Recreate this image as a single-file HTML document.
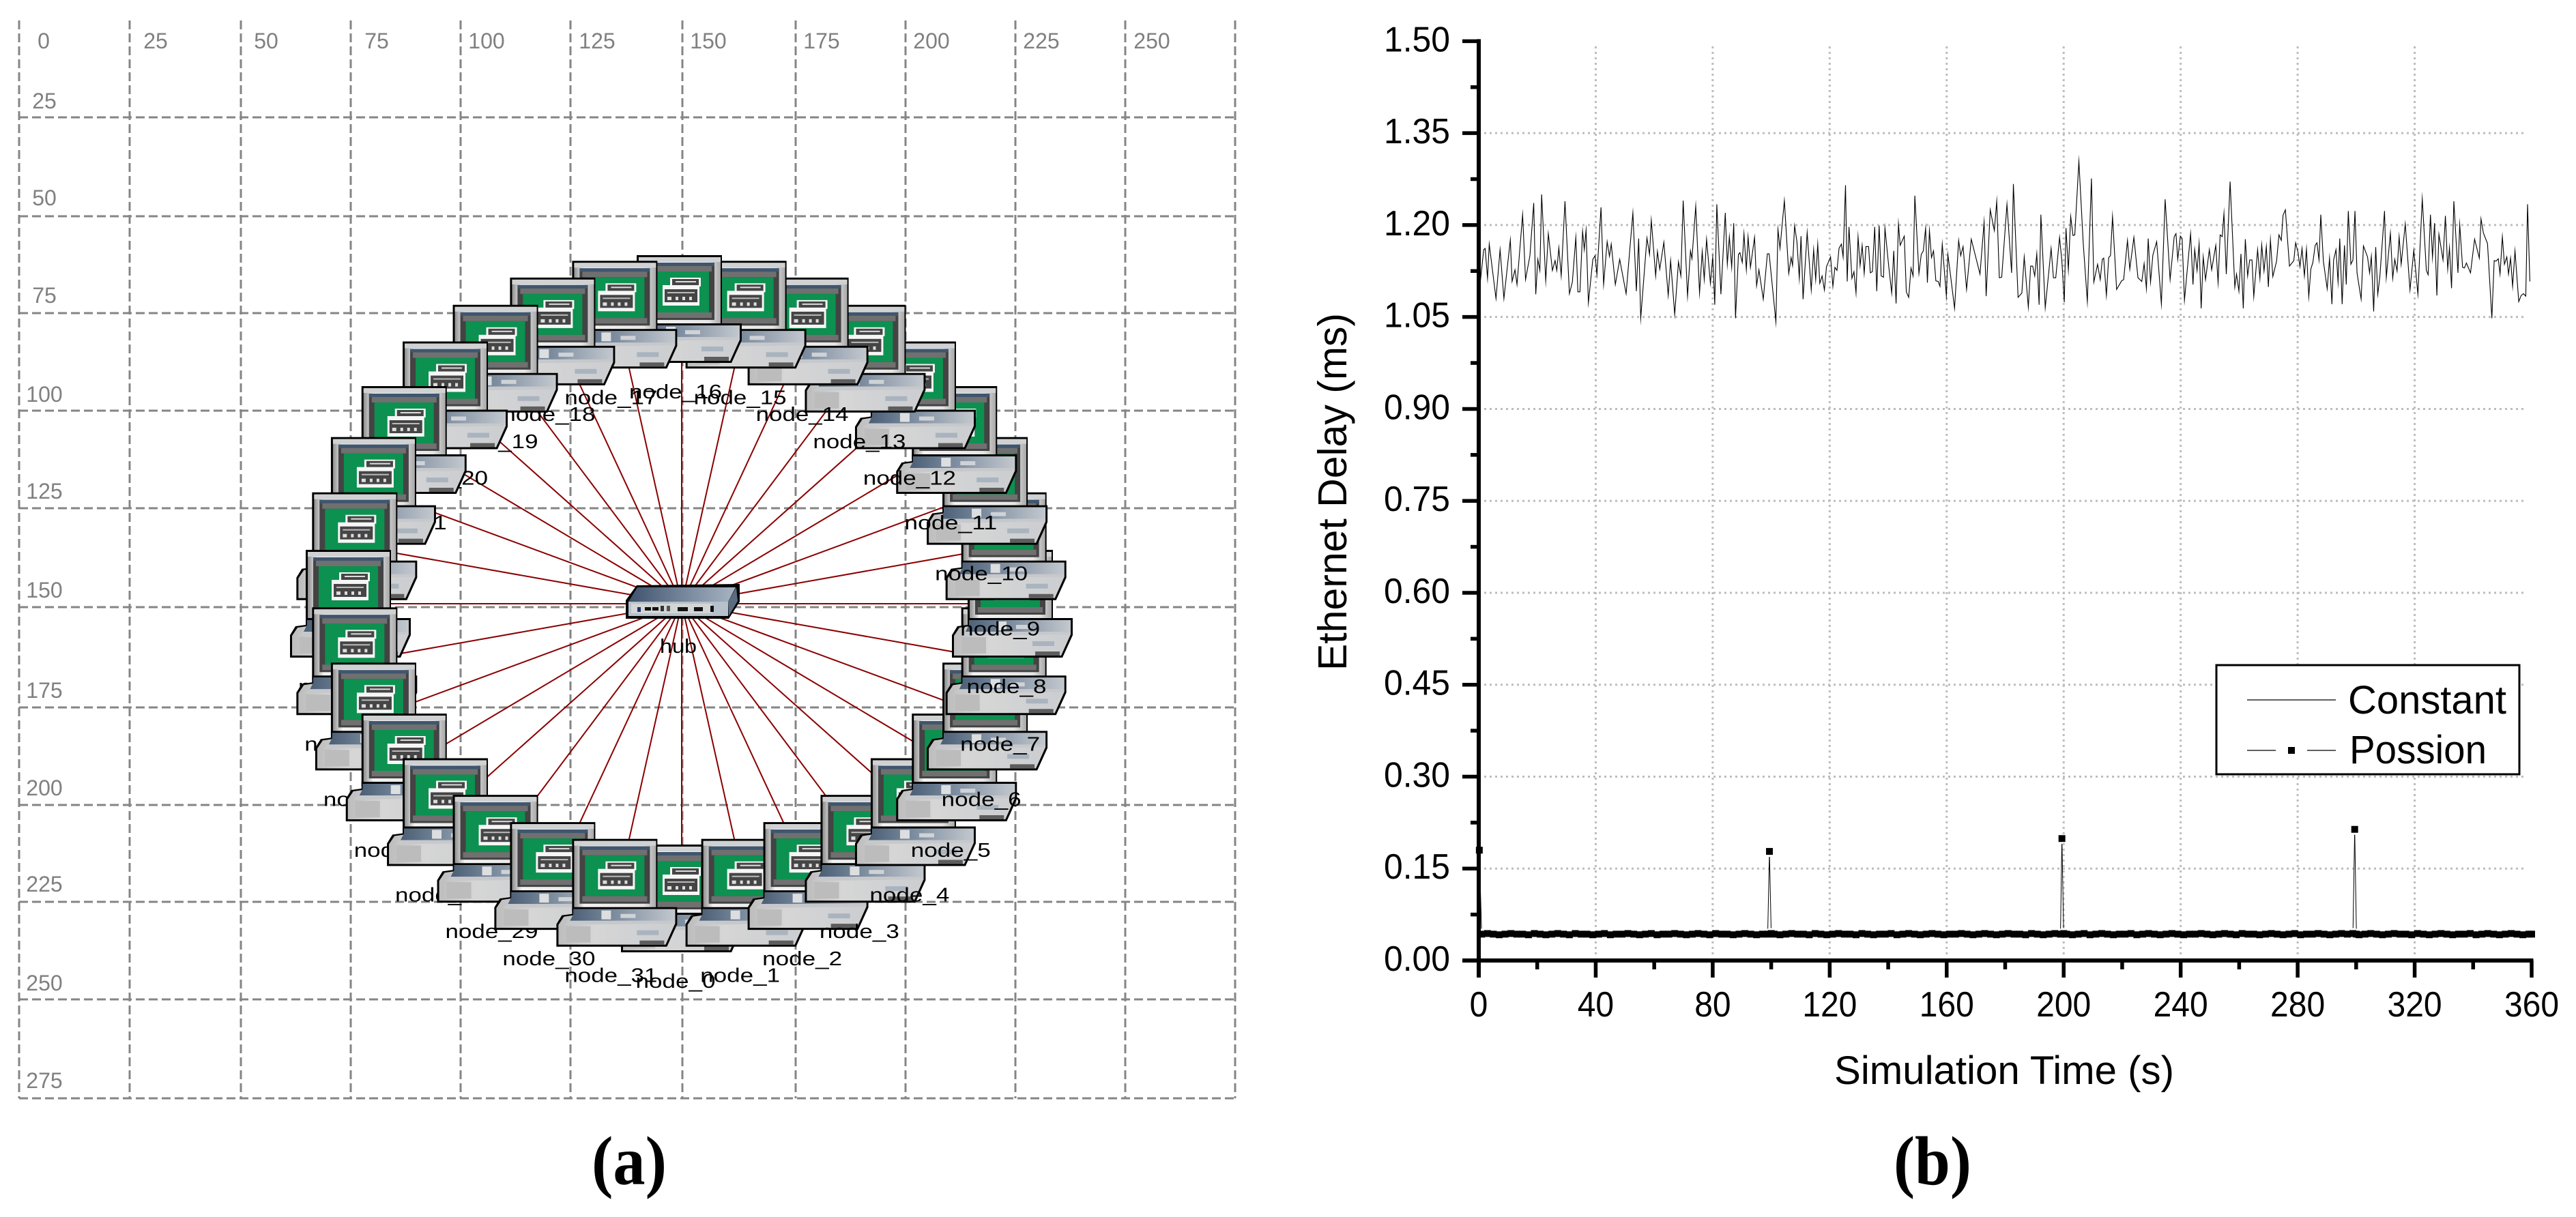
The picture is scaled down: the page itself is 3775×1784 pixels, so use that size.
<!DOCTYPE html>
<html lang="en">
<head>
<meta charset="utf-8">
<title>Hub network topology and Ethernet delay</title>
<style>
html,body{margin:0;padding:0;background:#fff;}
svg{display:block;}
.grid-a{stroke:#858585;stroke-width:3;stroke-dasharray:13 6;fill:none;}
.grid-label{font-family:"Liberation Sans",sans-serif;font-size:32px;fill:#808080;text-anchor:middle;}
.node-label{font-family:"Liberation Sans",sans-serif;font-size:29px;fill:#000;text-anchor:middle;}
.grid-b{stroke:#bdbdbd;stroke-width:3;stroke-dasharray:3 5;fill:none;}
.sans{font-family:"Liberation Sans",sans-serif;fill:#000;}
.tick-label{font-size:52px;}
.caption{font-family:"Liberation Serif",serif;font-weight:bold;font-size:102px;fill:#000;text-anchor:middle;}
</style>
</head>
<body>
<svg id="figure" xmlns="http://www.w3.org/2000/svg" width="3775" height="1784" viewBox="0 0 3775 1784">
<defs>
  <linearGradient id="frameGrad" x1="0" y1="0" x2="1" y2="0">
    <stop offset="0" stop-color="#8f8f8f"/><stop offset=".12" stop-color="#f2f2f2"/><stop offset=".85" stop-color="#e6e6e6"/><stop offset="1" stop-color="#a8a8a8"/>
  </linearGradient>
  <linearGradient id="baseGrad" x1="0" y1="0" x2="1" y2="0">
    <stop offset="0" stop-color="#bdbdbd"/><stop offset=".3" stop-color="#d6d6d6"/><stop offset="1" stop-color="#cbcdd0"/>
  </linearGradient>
  <linearGradient id="baseTopGrad" x1="0" y1="0" x2="1" y2="0">
    <stop offset="0" stop-color="#4a5e75"/><stop offset=".45" stop-color="#7f8fa1"/><stop offset="1" stop-color="#c3c8ce"/>
  </linearGradient>
  <linearGradient id="hubTop" x1="0" y1="0" x2="1" y2="0">
    <stop offset="0" stop-color="#3f526c"/><stop offset=".6" stop-color="#7f8ea3"/><stop offset="1" stop-color="#a8b4c2"/>
  </linearGradient>
  <g id="pc">
    <rect x="23" y="0" width="125" height="106" fill="#000"/>
    <rect x="26" y="3" width="120" height="100" fill="url(#frameGrad)"/>
    <rect x="26" y="3" width="120" height="7" fill="#cfd1d3"/>
    <rect x="34" y="11" width="103" height="84" fill="#434343"/>
    <rect x="34" y="11" width="103" height="5" fill="#3f566f"/>
    <rect x="38" y="16" width="95" height="8" fill="#707070"/>
    <rect x="42" y="24" width="87" height="60" fill="#0c9150"/>
    <rect x="38" y="84" width="95" height="8" fill="#707070"/>
    <rect x="72" y="33" width="45" height="13" fill="#f6f6f6"/>
    <rect x="61" y="44" width="54" height="30" fill="#f6f6f6"/>
    <rect x="75" y="35" width="39" height="9" fill="#454545"/>
    <rect x="64" y="50" width="48" height="19" fill="#454545"/>
    <rect x="80" y="38" width="30" height="2" fill="#ddd"/>
    <rect x="68" y="54" width="40" height="2" fill="#bbb"/>
    <rect x="68" y="61" width="6" height="5" fill="#ddd"/>
    <rect x="80" y="61" width="4" height="5" fill="#ddd"/>
    <rect x="90" y="61" width="4" height="5" fill="#ddd"/>
    <rect x="100" y="61" width="4" height="5" fill="#ddd"/>
    <polygon points="23,100 177,100 177,125 162,158 0,158 0,125 8,112 23,110" fill="#000"/>
    <polygon points="25,103 174,103 174,124 160,155 3,155 3,126 11,114 25,112" fill="url(#baseGrad)"/>
    <polygon points="25,103 174,103 174,120 20,120 25,110" fill="url(#baseTopGrad)"/>
    <polygon points="20,120 174,120 174,124 12,126" fill="#c6c8cb"/>
    <rect x="66" y="105" width="14" height="13" fill="#dcdee0"/>
    <rect x="94" y="110" width="22" height="6" fill="#cfd2d6"/>
    <rect x="14" y="128" width="36" height="24" fill="#bcbcbc"/>
    <rect x="118" y="134" width="32" height="7" fill="#a9b4bf"/>
    <rect x="122" y="149" width="36" height="6" fill="#5d5d5d"/>
  </g>
</defs>

<g id="panel-a">
  <g id="grid-a">
    <line class="grid-a" x1="28" y1="30" x2="28" y2="1610"/>
    <line class="grid-a" x1="190" y1="30" x2="190" y2="1610"/>
    <line class="grid-a" x1="353" y1="30" x2="353" y2="1610"/>
    <line class="grid-a" x1="514" y1="30" x2="514" y2="1610"/>
    <line class="grid-a" x1="675" y1="30" x2="675" y2="1610"/>
    <line class="grid-a" x1="836" y1="30" x2="836" y2="1610"/>
    <line class="grid-a" x1="1000" y1="30" x2="1000" y2="1610"/>
    <line class="grid-a" x1="1166" y1="30" x2="1166" y2="1610"/>
    <line class="grid-a" x1="1327" y1="30" x2="1327" y2="1610"/>
    <line class="grid-a" x1="1488" y1="30" x2="1488" y2="1610"/>
    <line class="grid-a" x1="1649" y1="30" x2="1649" y2="1610"/>
    <line class="grid-a" x1="1810" y1="30" x2="1810" y2="1610"/>
    <line class="grid-a" x1="28" y1="172" x2="1810" y2="172"/>
    <line class="grid-a" x1="28" y1="317" x2="1810" y2="317"/>
    <line class="grid-a" x1="28" y1="459" x2="1810" y2="459"/>
    <line class="grid-a" x1="28" y1="602" x2="1810" y2="602"/>
    <line class="grid-a" x1="28" y1="745" x2="1810" y2="745"/>
    <line class="grid-a" x1="28" y1="890" x2="1810" y2="890"/>
    <line class="grid-a" x1="28" y1="1037" x2="1810" y2="1037"/>
    <line class="grid-a" x1="28" y1="1180" x2="1810" y2="1180"/>
    <line class="grid-a" x1="28" y1="1322" x2="1810" y2="1322"/>
    <line class="grid-a" x1="28" y1="1465" x2="1810" y2="1465"/>
    <line class="grid-a" x1="28" y1="1610" x2="1810" y2="1610"/>
  </g>
  <g id="grid-labels-a">
    <text class="grid-label" x="64" y="71">0</text>
    <text class="grid-label" x="228" y="71">25</text>
    <text class="grid-label" x="390" y="71">50</text>
    <text class="grid-label" x="552" y="71">75</text>
    <text class="grid-label" x="713" y="71">100</text>
    <text class="grid-label" x="875" y="71">125</text>
    <text class="grid-label" x="1038" y="71">150</text>
    <text class="grid-label" x="1204" y="71">175</text>
    <text class="grid-label" x="1365" y="71">200</text>
    <text class="grid-label" x="1526" y="71">225</text>
    <text class="grid-label" x="1688" y="71">250</text>
    <text class="grid-label" x="65" y="159">25</text>
    <text class="grid-label" x="65" y="301">50</text>
    <text class="grid-label" x="65" y="444">75</text>
    <text class="grid-label" x="65" y="589">100</text>
    <text class="grid-label" x="65" y="731">125</text>
    <text class="grid-label" x="65" y="876">150</text>
    <text class="grid-label" x="65" y="1023">175</text>
    <text class="grid-label" x="65" y="1166">200</text>
    <text class="grid-label" x="65" y="1307">225</text>
    <text class="grid-label" x="65" y="1452">250</text>
    <text class="grid-label" x="65" y="1595">275</text>
  </g>
  <g id="links"></g>
  <g id="nodes"></g>
  <g id="hub">
    <polygon points="933,858 1084,856 1084,882 1068,907 917,907 917,880" fill="#000"/>
    <polygon points="934,861 1078,861 1067,882 921,882" fill="url(#hubTop)"/>
    <polygon points="1079,861 1081,881 1068,903 1067,882" fill="#5b6c80"/>
    <rect x="921" y="882" width="146" height="21" fill="#b6c1cc"/>
    <rect x="925" y="885" width="118" height="14" fill="#d4d6d6"/>
    <rect x="934" y="890" width="5" height="7" fill="#1d2f6e"/>
    <rect x="945" y="890" width="9" height="5" fill="#111"/>
    <rect x="956" y="890" width="9" height="5" fill="#111"/>
    <rect x="968" y="888" width="5" height="8" fill="#333"/>
    <rect x="977" y="888" width="5" height="8" fill="#555"/>
    <rect x="993" y="890" width="15" height="6" fill="#111"/>
    <rect x="1017" y="890" width="13" height="6" fill="#111"/>
    <rect x="1041" y="888" width="5" height="9" fill="#111"/>
    <text class="node-label" x="994" y="957" textLength="54" lengthAdjust="spacingAndGlyphs">hub</text>
  </g>
  <text class="caption" x="922" y="1736" textLength="110" lengthAdjust="spacingAndGlyphs">(a)</text>
</g>

<g id="panel-b">
  <g id="chart-grid"></g>
  <g id="chart-series"></g>
  <g id="chart-axes"></g>
  <text class="sans" x="2688" y="1589" font-size="58" textLength="498" lengthAdjust="spacingAndGlyphs">Simulation Time (s)</text>
  <text class="sans" transform="translate(1973,983) rotate(-90)" x="0" y="0" font-size="59" textLength="524" lengthAdjust="spacingAndGlyphs">Ethernet Delay (ms)</text>
  <g id="legend">
    <rect x="3248" y="975" width="444" height="160" fill="#fff" stroke="#000" stroke-width="3"/>
    <line x1="3293" y1="1026" x2="3423" y2="1026" stroke="#000" stroke-width="1.2"/>
    <text class="sans" x="3441" y="1046" font-size="58" textLength="232" lengthAdjust="spacingAndGlyphs">Constant</text>
    <line x1="3293" y1="1100" x2="3335" y2="1100" stroke="#000" stroke-width="1.2"/>
    <rect x="3353" y="1095" width="10" height="10" fill="#000"/>
    <line x1="3381" y1="1100" x2="3423" y2="1100" stroke="#000" stroke-width="1.2"/>
    <text class="sans" x="3443" y="1119" font-size="58" textLength="201" lengthAdjust="spacingAndGlyphs">Possion</text>
  </g>
  <text class="caption" x="2832" y="1736" textLength="114" lengthAdjust="spacingAndGlyphs">(b)</text>
</g>
</svg>

<script>
const NS = 'http://www.w3.org/2000/svg';

/* ---------- chart data ---------- */
const yTickValues = [0, 0.15, 0.30, 0.45, 0.60, 0.75, 0.90, 1.05, 1.20, 1.35, 1.50];
const yMinorValues = [0.075, 0.225, 0.375, 0.525, 0.675, 0.825, 0.975, 1.125, 1.275, 1.425];
const yGridValues = [0.15, 0.30, 0.45, 0.60, 0.75, 0.90, 1.05, 1.20, 1.35];
const xTickValues = [0, 40, 80, 120, 160, 200, 240, 280, 320, 360];
const xMinorValues = [20, 60, 100, 140, 180, 220, 260, 300, 340];
const xGridValues = [40, 80, 120, 160, 200, 240, 280, 320];

const constantTimes = [
0.5,1.7,2.2,3.0,3.6,5.9,7.3,8.6,10.8,11.4,12.4,13.1,15.0,16.0,17.5,18.8,19.5,20.2,20.9,21.5,
22.9,23.8,25.2,26.1,26.7,27.4,28.2,29.5,31.0,32.0,33.2,33.9,34.6,35.5,36.1,36.7,37.5,39.0,39.8,40.4,
41.8,42.7,43.9,44.7,45.3,46.7,48.2,50.4,52.7,53.9,54.7,55.4,57.5,58.4,59.0,60.5,61.1,61.9,63.3,64.8,
65.6,67.0,68.3,69.1,69.9,71.4,72.4,72.9,74.2,75.5,76.4,77.1,77.9,79.2,80.0,80.7,81.4,82.8,84.3,85.0,
85.7,86.5,87.2,87.8,88.8,89.3,90.1,90.7,91.5,92.1,92.9,94.3,95.0,95.8,97.3,98.7,99.3,101.6,102.3,103.0,
104.5,106.0,106.8,107.3,108.0,108.8,109.6,110.2,110.9,112.3,113.7,114.5,115.2,115.9,116.6,117.4,118.2,118.9,120.3,121.1,
121.8,122.5,123.2,124.0,124.6,125.4,126.0,126.6,127.6,128.3,129.0,129.7,130.4,131.1,131.8,132.4,133.3,133.9,134.6,135.4,
136.1,136.9,137.6,138.4,138.9,140.2,141.2,141.9,142.7,143.5,144.1,145.5,146.2,147.0,147.8,148.5,149.1,150.5,151.3,152.0,
152.8,153.4,154.1,154.8,155.5,156.3,157.1,157.7,158.5,159.9,160.4,161.3,162.7,164.1,164.8,165.6,166.8,168.4,
171.4,172.8,173.5,174.9,176.3,177.1,178.0,178.8,180.6,182.2,182.8,184.4,185.7,186.5,187.9,188.7,189.4,190.1,190.8,191.6,
192.2,193.7,195.7,196.5,197.3,198.6,199.4,200.2,200.8,201.6,202.4,203.2,203.8,205.2,206.7,208.1,209.5,210.3,211.6,212.5,
213.2,213.7,214.6,215.4,216.0,216.7,218.1,219.8,220.5,221.8,222.6,224.0,225.4,226.7,227.5,228.3,228.9,229.7,230.5,231.8,
233.4,234.7,236.4,237.8,238.4,239.0,239.9,240.5,241.3,243.4,244.2,244.8,245.6,246.3,247.0,247.7,248.5,249.8,250.6,252.0,
252.8,253.5,254.2,254.8,255.6,256.9,258.5,259.1,259.9,260.6,261.4,262.1,262.9,263.6,264.4,265.0,266.3,267.1,267.7,268.5,
269.3,270.0,270.7,271.5,272.8,273.6,274.4,275.0,275.8,277.2,278.7,279.3,280.1,280.8,281.5,282.3,283.0,283.8,284.5,285.2,
286.0,286.6,287.3,287.9,288.8,290.1,290.9,291.7,292.3,293.1,293.8,294.4,295.2,296.0,296.6,297.3,298.2,298.9,299.6,300.3,
301.7,302.5,303.9,304.6,305.2,306.0,306.7,307.4,308.1,309.7,310.3,311.7,312.5,313.2,314.0,314.7,315.4,316.8,318.4,319.7,
321.1,322.6,324.0,324.6,325.4,326.1,326.8,327.6,328.3,329.7,330.5,331.3,331.9,332.6,333.4,334.8,335.4,336.4,337.0,337.7,
339.1,340.5,342.1,342.7,343.5,344.9,346.4,347.2,347.8,348.6,349.2,350.0,350.7,351.5,352.1,352.8,353.5,354.3,355.6,356.4,
357.2,358.0,358.6,359.4];

const constantDelays = [
1.105,1.160,1.162,1.113,1.169,1.080,1.160,1.080,1.176,1.108,1.127,1.103,1.217,1.111,1.150,1.236,1.087,1.144,1.126,1.250,
1.109,1.186,1.126,1.142,1.126,1.163,1.117,1.239,1.088,1.107,1.180,1.091,1.091,1.190,1.160,1.192,1.073,1.144,1.150,1.119,
1.229,1.103,1.173,1.149,1.169,1.103,1.144,1.088,1.220,1.092,1.178,1.048,1.179,1.152,1.208,1.117,1.157,1.128,1.172,1.085,
1.142,1.054,1.140,1.117,1.240,1.084,1.158,1.145,1.231,1.089,1.157,1.111,1.177,1.105,1.148,1.070,1.234,1.087,1.220,1.136,
1.181,1.131,1.203,1.048,1.152,1.155,1.139,1.186,1.127,1.181,1.131,1.180,1.101,1.127,1.079,1.153,1.153,1.042,1.193,1.162,
1.240,1.121,1.147,1.134,1.199,1.173,1.113,1.182,1.079,1.188,1.094,1.160,1.111,1.169,1.105,1.117,1.094,1.132,1.148,1.100,
1.131,1.126,1.162,1.169,1.148,1.265,1.108,1.197,1.113,1.124,1.089,1.181,1.134,1.167,1.121,1.165,1.165,1.122,1.124,1.197,
1.092,1.199,1.117,1.115,1.195,1.132,1.089,1.158,1.072,1.202,1.167,1.182,1.091,1.082,1.130,1.117,1.248,1.121,1.152,1.158,
1.195,1.106,1.191,1.147,1.158,1.109,1.108,1.100,1.169,1.084,1.152,1.119,1.064,1.175,1.150,1.165,1.095,1.177,
1.120,1.205,1.084,1.225,1.191,1.239,1.114,1.115,1.234,1.122,1.267,1.082,1.089,1.148,1.066,1.133,1.133,1.117,1.153,1.070,
1.217,1.065,1.162,1.114,1.114,1.180,1.141,1.074,1.195,1.127,1.214,1.183,1.184,1.304,1.170,1.075,1.276,1.107,1.136,1.111,
1.144,1.146,1.085,1.147,1.150,1.214,1.095,1.109,1.111,1.175,1.128,1.180,1.114,1.108,1.137,1.096,1.178,1.107,1.151,1.173,
1.071,1.242,1.111,1.181,1.186,1.144,1.182,1.178,1.077,1.186,1.103,1.160,1.126,1.170,1.064,1.148,1.111,1.160,1.127,1.167,
1.106,1.184,1.181,1.219,1.120,1.271,1.099,1.120,1.092,1.153,1.064,1.177,1.117,1.143,1.143,1.083,1.160,1.113,1.168,1.125,
1.165,1.099,1.176,1.116,1.141,1.184,1.175,1.216,1.225,1.133,1.142,1.171,1.156,1.132,1.162,1.117,1.161,1.083,1.128,1.139,
1.167,1.171,1.143,1.217,1.141,1.096,1.146,1.071,1.143,1.160,1.107,1.178,1.071,1.167,1.103,1.223,1.136,1.143,1.223,1.122,
1.079,1.166,1.148,1.122,1.149,1.059,1.164,1.087,1.115,1.223,1.114,1.187,1.113,1.144,1.125,1.181,1.136,1.202,1.094,1.159,
1.087,1.243,1.126,1.119,1.217,1.147,1.203,1.085,1.185,1.143,1.215,1.128,1.163,1.097,1.239,1.122,1.201,1.131,1.130,1.138,
1.122,1.177,1.146,1.210,1.187,1.170,1.048,1.142,1.141,1.145,1.120,1.181,1.136,1.148,1.120,1.146,1.100,1.158,1.075,1.085,
1.088,1.084,1.234,1.108];

const poissonTimes = [
0.2,1,3,5,7,9,11,13,15,17,
19,21,23,25,27,29,31,33,35,37,
39,41,43,45,47,49,51,53,55,57,
59,61,63,65,67,69,71,73,75,77,
79,81,83,85,87,89,91,93,95,97,
98.8,99.4,100,101,103,105,107,109,111,113,
115,117,119,121,123,125,127,129,131,133,
135,137,139,141,143,145,147,149,151,153,
155,157,159,161,163,165,167,169,171,173,
175,177,179,181,183,185,187,189,191,193,
195,197,198.9,199.4,200,201,203,205,207,209,
211,213,215,217,219,221,223,225,227,229,
231,233,235,237,239,241,243,245,247,249,
251,253,255,257,259,261,263,265,267,269,
271,273,275,277,279,281,283,285,287,289,
291,293,295,297,298.9,299.5,300.1,301,303,305,
307,309,311,313,315,317,319,321,323,325,
327,329,331,333,335,337,339,341,343,345,
347,349,351,353,355,357,359,360];

const poissonDelays = [
0.180,0.043,0.044,0.043,0.042,0.043,0.044,0.043,0.043,0.042,
0.044,0.043,0.042,0.043,0.044,0.043,0.042,0.044,0.043,0.043,
0.042,0.043,0.044,0.042,0.043,0.043,0.044,0.043,0.042,0.043,
0.044,0.042,0.043,0.043,0.044,0.043,0.042,0.043,0.044,0.043,
0.042,0.044,0.043,0.043,0.042,0.043,0.044,0.043,0.042,0.043,
0.043,0.178,0.044,0.043,0.042,0.043,0.044,0.043,0.043,0.042,
0.044,0.043,0.042,0.043,0.044,0.043,0.043,0.042,0.044,0.043,
0.042,0.043,0.043,0.044,0.042,0.043,0.044,0.043,0.042,0.043,
0.044,0.043,0.042,0.043,0.043,0.044,0.043,0.042,0.043,0.044,
0.043,0.042,0.043,0.044,0.043,0.043,0.042,0.044,0.043,0.042,
0.043,0.044,0.043,0.199,0.044,0.043,0.042,0.043,0.044,0.042,
0.043,0.044,0.043,0.042,0.043,0.043,0.044,0.042,0.043,0.044,
0.043,0.042,0.043,0.044,0.043,0.042,0.043,0.043,0.044,0.043,
0.042,0.043,0.044,0.043,0.042,0.044,0.043,0.043,0.042,0.043,
0.044,0.043,0.042,0.043,0.044,0.042,0.043,0.043,0.044,0.043,
0.042,0.043,0.044,0.043,0.044,0.214,0.043,0.042,0.043,0.044,
0.043,0.042,0.043,0.044,0.043,0.043,0.042,0.044,0.043,0.042,
0.043,0.044,0.043,0.042,0.043,0.043,0.044,0.042,0.043,0.044,
0.043,0.042,0.043,0.044,0.043,0.042,0.043,0.043];

/* ---------- axis functions ---------- */
function xScale(seconds) { return 2167 + seconds * 4.2861; }
function yScale(delay) { return 1408 - delay * 898.4; }

function make(tag, attrs, parent) {
  const el = document.createElementNS(NS, tag);
  for (const key in attrs) el.setAttribute(key, attrs[key]);
  parent.appendChild(el);
  return el;
}

/* ---------- chart grid ---------- */
const chartGrid = document.getElementById('chart-grid');
yGridValues.forEach(function (v) {
  const el = make('line', {x1: 2175, x2: 3702, y1: yScale(v), y2: yScale(v), class: 'grid-b'}, chartGrid);
  
  
});
xGridValues.forEach(function (v) {
  const el = make('line', {x1: xScale(v), x2: xScale(v), y1: 68, y2: 1400, class: 'grid-b'}, chartGrid);
  
  
});

/* ---------- series ---------- */
const chartSeries = document.getElementById('chart-series');
let constantPath = '';
const constantCount = Math.min(constantTimes.length, constantDelays.length);
for (let i = 0; i < constantCount; i++) {
  constantPath += (i ? 'L' : 'M') + xScale(constantTimes[i]).toFixed(1) + ' ' + yScale(constantDelays[i]).toFixed(1);
}
const constantLine = make('path', {d: constantPath, fill: 'none', stroke: '#000', 'stroke-width': 1.1, 'stroke-linejoin': 'miter', 'stroke-miterlimit': 20}, chartSeries);



const poissonCount = Math.min(poissonTimes.length, poissonDelays.length);
const symbolGap = 8;
for (let i = 0; i + 1 < poissonCount; i++) {
  const x1 = xScale(poissonTimes[i]), y1 = yScale(poissonDelays[i]);
  const x2 = xScale(poissonTimes[i + 1]), y2 = yScale(poissonDelays[i + 1]);
  const len = Math.hypot(x2 - x1, y2 - y1);
  if (len > symbolGap * 2) {
    const ux = (x2 - x1) / len, uy = (y2 - y1) / len;
    const seg = make('line', {x1: x1 + ux * symbolGap, y1: y1 + uy * symbolGap, x2: x2 - ux * symbolGap, y2: y2 - uy * symbolGap, stroke: '#000', 'stroke-width': 1}, chartSeries);
    
    
  }
}
for (let i = 0; i < poissonCount; i++) {
  const marker = make('rect', {x: xScale(poissonTimes[i]) - 5, y: yScale(poissonDelays[i]) - 5, width: 10, height: 10, fill: '#000'}, chartSeries);
  
  
}

/* ---------- axes ---------- */
const chartAxes = document.getElementById('chart-axes');
const yAxisLine = make('line', {x1: 2167, x2: 2167, y1: yScale(1.5) - 3, y2: 1433, stroke: '#000', 'stroke-width': 6}, chartAxes);


const xAxisLine = make('line', {x1: 2143, x2: xScale(360) + 2.5, y1: 1408, y2: 1408, stroke: '#000', 'stroke-width': 6}, chartAxes);



yTickValues.forEach(function (v) {
  const tick = make('line', {x1: 2143, x2: 2167, y1: yScale(v), y2: yScale(v), stroke: '#000', 'stroke-width': 5.5}, chartAxes);
  
  
  const label = make('text', {x: 2125, y: yScale(v) + 15, 'text-anchor': 'end', class: 'sans tick-label', textLength: 97, lengthAdjust: 'spacingAndGlyphs'}, chartAxes);
  
  
  label.textContent = v.toFixed(2);
});
yMinorValues.forEach(function (v) {
  const tick = make('line', {x1: 2155, x2: 2167, y1: yScale(v), y2: yScale(v), stroke: '#000', 'stroke-width': 5.5}, chartAxes);
  
  
});
xTickValues.forEach(function (v) {
  const tick = make('line', {x1: xScale(v), x2: xScale(v), y1: 1408, y2: 1433, stroke: '#000', 'stroke-width': 5.5}, chartAxes);
  
  
  const text = String(v);
  const label = make('text', {x: xScale(v), y: 1490, 'text-anchor': 'middle', class: 'sans tick-label', textLength: text.length * 26.7, lengthAdjust: 'spacingAndGlyphs'}, chartAxes);
  
  
  label.textContent = text;
});
xMinorValues.forEach(function (v) {
  const tick = make('line', {x1: xScale(v), x2: xScale(v), y1: 1408, y2: 1421, stroke: '#000', 'stroke-width': 5.5}, chartAxes);
  
  
});

/* ---------- network topology ---------- */
const nodeCount = 32;
const hubX = 999, hubY = 885, radiusX = 485, radiusY = 432;
const linksGroup = document.getElementById('links');
const nodesGroup = document.getElementById('nodes');
for (let k = 0; k < nodeCount; k++) {
  const angle = k * 2 * Math.PI / nodeCount;
  const cx = hubX + radiusX * Math.sin(angle);
  const cy = hubY + radiusY * Math.cos(angle);
  const link = make('line', {x1: hubX, y1: hubY, x2: cx, y2: cy, stroke: '#8b0000', 'stroke-width': 2}, linksGroup);
  
  
  const icon = make('use', {href: '#pc', x: cx - 89, y: cy - 79}, nodesGroup);
  
  
  const name = 'node_' + k;
  const label = make('text', {x: cx - 9, y: cy + 131, class: 'node-label', textLength: name.length === 6 ? 117 : 136, lengthAdjust: 'spacingAndGlyphs'}, nodesGroup);
  
  
  label.textContent = name;
}
</script>
</body>
</html>
